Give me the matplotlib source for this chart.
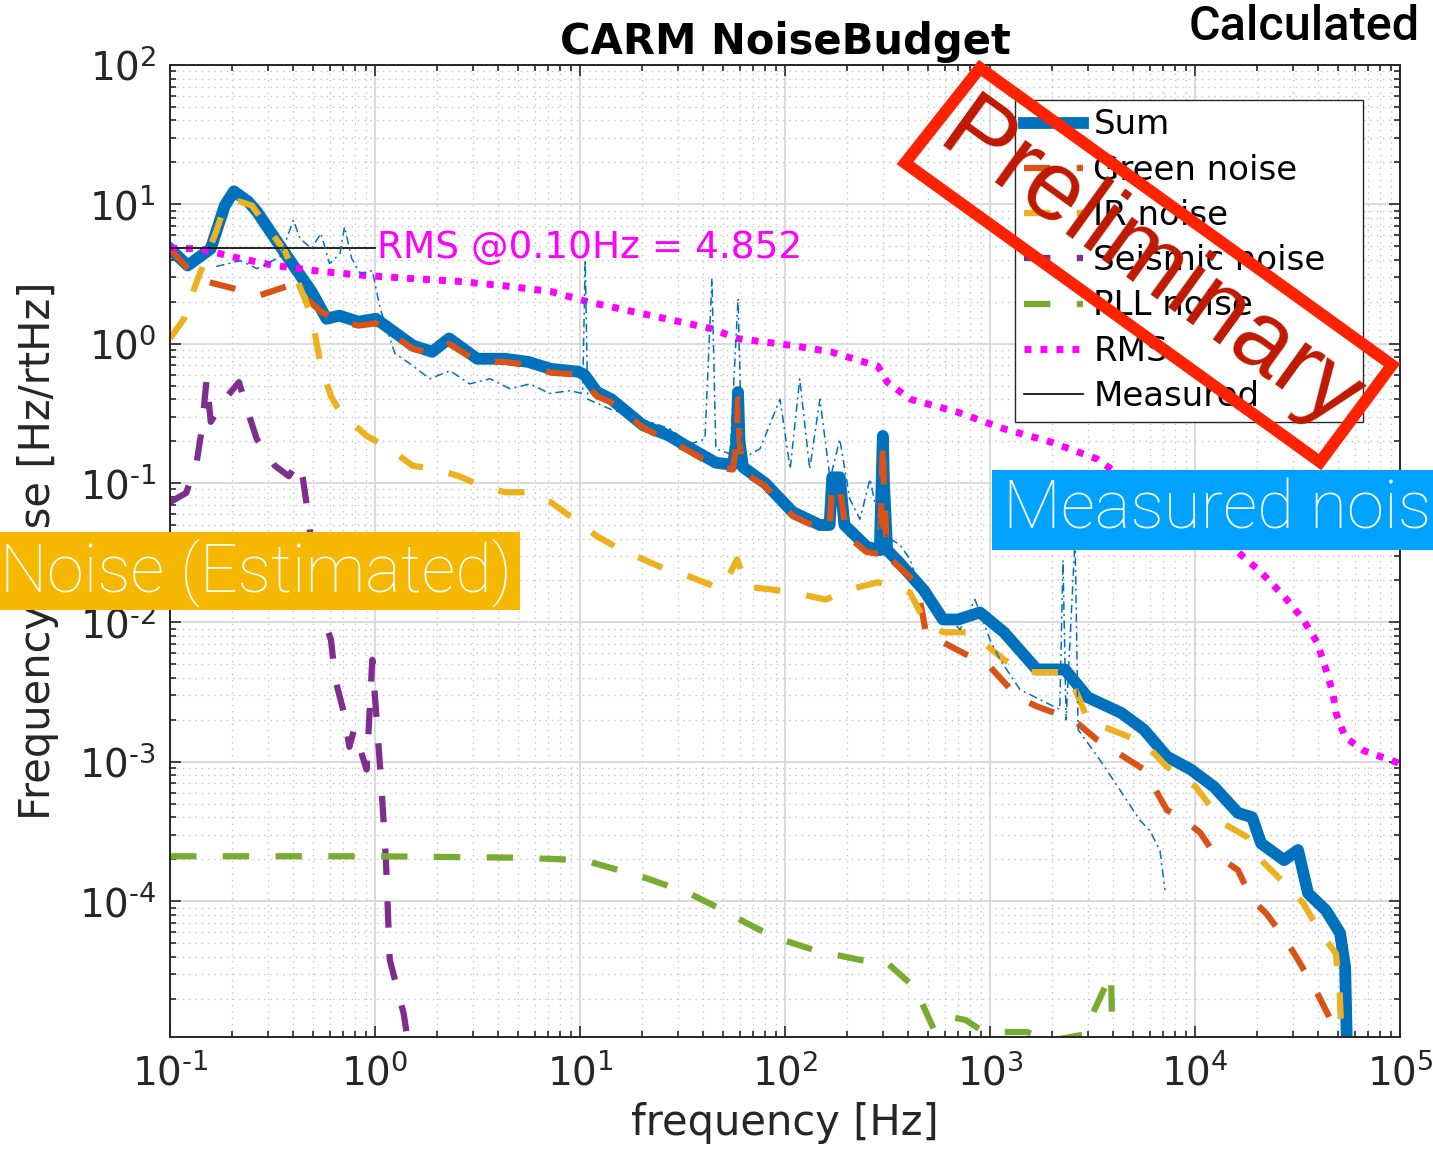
import numpy as np
import matplotlib.pyplot as plt
from matplotlib.patches import Polygon, Rectangle
from matplotlib.ticker import LogLocator, NullFormatter, FuncFormatter

# ---- data (frequency in Hz, noise in Hz/rtHz) ----
sum_f = [0.1, 0.122, 0.158, 0.185, 0.205, 0.24, 0.265, 0.325, 0.40, 0.49, 0.58, 0.67, 0.83,
         1.01, 1.18, 1.53, 1.9, 2.3, 2.57, 3.15, 4.3, 5.6, 7.2, 9.8, 10.5, 12.1, 14.2, 20.3,
         27, 34, 46, 55.7, 58, 59, 60, 62.4, 80, 109, 148, 165, 170, 185, 195, 210, 250,
         290, 296, 300, 304, 315, 360, 476, 590, 700, 893, 1170, 1690, 2320, 3000, 4350,
         5640, 7300, 9550, 12400, 16200, 19000, 21000, 27200, 31800, 35600, 43500, 51000,
         54000, 55000]
sum_v = [4.8, 3.64, 4.8, 9.8, 12.4, 10.5, 8.9, 5.7, 3.64, 2.37, 1.51, 1.59, 1.44,
         1.51, 1.28, 0.97, 0.875, 1.09, 0.97, 0.78, 0.78, 0.74, 0.66, 0.63, 0.6, 0.45, 0.40, 0.26,
         0.22, 0.18, 0.14, 0.135, 0.2, 0.45, 0.2, 0.13, 0.1, 0.062, 0.05, 0.05, 0.11, 0.11, 0.05, 0.045, 0.035,
         0.033, 0.1, 0.218, 0.1, 0.033, 0.027, 0.017, 0.0105, 0.0105, 0.0118, 0.0085, 0.0046, 0.0046, 0.0029, 0.00225,
         0.0017, 0.00109, 0.00088, 0.00066, 0.00043, 0.0004, 0.00026, 0.000197, 0.000233, 0.000114, 8.6e-5, 5.9e-5,
         3.35e-5, 1e-5]

green_f = [0.1, 0.122, 0.151, 0.205, 0.27, 0.38, 0.42, 0.545, 0.67, 0.83, 1.01, 1.18, 1.53,
           1.9, 2.3, 2.57, 3.15, 4.3, 5.6, 7.2, 9.8, 12.1, 14.2, 20.3, 34, 46, 55.7, 58, 59, 60,
           62.4, 80, 109, 148, 165, 170, 185, 200, 250, 290, 296, 300, 304, 315, 360, 440, 490,
           560, 730, 1000, 1370, 1690, 2560, 3325, 5640, 7300, 8550, 10600, 12400, 16200,
           19000, 22200, 27200, 31800, 39400, 46000, 48700]
green_v = [4.8, 3.46, 2.79, 2.49, 2.21, 2.61, 2.4, 1.7, 1.45, 1.35, 1.4, 1.2, 0.92,
           0.85, 1.0, 0.9, 0.75, 0.74, 0.7, 0.62, 0.6, 0.42, 0.38, 0.25, 0.17, 0.13, 0.125, 0.2, 0.4, 0.2,
           0.12, 0.095, 0.058, 0.047, 0.047, 0.1, 0.09, 0.042, 0.032, 0.031, 0.09, 0.2, 0.09, 0.03, 0.025, 0.019, 0.008,
           0.0075, 0.0061, 0.0048, 0.0029, 0.0025, 0.002, 0.00144, 0.00088, 0.00045, 0.0004, 0.00031, 0.00022, 0.000167,
           0.000102, 8.2e-5, 5.5e-5, 3.8e-5, 2.2e-5, 1.4e-5, 9e-6]

ir_f = [0.1, 0.117, 0.135, 0.168, 0.185, 0.217, 0.251, 0.294, 0.364, 0.42, 0.49, 0.545, 0.61,
        0.675, 0.91, 1.18, 1.53, 1.98, 2.57, 3.33, 4.3, 5.6, 7.2, 9.35, 12.1, 15.7, 20.3, 26.3,
        34, 46, 50, 58.4, 65, 84.5, 109, 158, 207, 284, 348, 407, 476, 590, 808, 1170, 1514,
        2320, 2560, 3000, 3890, 5640, 7300, 10100, 13800, 17900, 21000, 27200, 33700, 39400,
        48700, 50800, 52000]
ir_v = [1.09, 1.51, 2.79, 6.4, 9.8, 10.5, 9.8, 7.1, 4.59, 2.79, 1.59, 0.69, 0.42,
        0.324, 0.218, 0.176, 0.133, 0.126, 0.112, 0.095, 0.086, 0.086, 0.073, 0.055, 0.0416, 0.0335, 0.0284, 0.024,
        0.0214, 0.018, 0.018, 0.0284, 0.018, 0.0173, 0.0164, 0.0146, 0.0173, 0.0194, 0.018, 0.0164, 0.0105, 0.0085,
        0.0085, 0.0054, 0.0044, 0.0044, 0.0035, 0.002, 0.0017, 0.00137, 0.00092, 0.00066, 0.00036, 0.00029,
        0.000197, 0.000135, 9.7e-5, 6.5e-5, 4.2e-5, 2.2e-5, 9e-6]

seis_f = [0.1, 0.12, 0.135, 0.143, 0.151, 0.158, 0.185, 0.217, 0.24, 0.265, 0.325, 0.38, 0.42,
          0.445, 0.47, 0.49, 0.546, 0.61, 0.64, 0.705, 0.75, 0.79, 0.91, 0.97, 1.07, 1.13, 1.18,
          1.38, 1.46]
seis_v = [0.073, 0.085, 0.142, 0.245, 0.56, 0.275, 0.40, 0.53, 0.324, 0.207, 0.133, 0.112, 0.142,
          0.107, 0.062, 0.035, 0.0118, 0.0075, 0.0039, 0.00225, 0.00128, 0.0017, 0.00088, 0.0054, 0.00074,
          0.0002, 3.8e-5, 1.56e-5, 9e-6]

pll_f = [0.1, 1.0, 5.0, 10.4, 20.3, 34, 50, 65, 89, 143, 230, 315, 430, 476, 533, 653, 764,
         893, 1170, 1514, 1985, 2845, 3890, 3950, 4025]
pll_v = [2.1e-4, 2.1e-4, 2.05e-4, 1.97e-4, 1.49e-4, 1.14e-4, 8.6e-5, 6.95e-5, 5.5e-5, 4.4e-5, 3.8e-5,
         3.6e-5, 2.4e-5, 1.73e-5, 1.2e-5, 1.47e-5, 1.4e-5, 1.2e-5, 1.15e-5, 1.15e-5, 1.0e-5, 1.1e-5,
         3.0e-5, 1.2e-5, 9e-6]

rms_f = [0.1, 0.14, 0.217, 0.325, 0.546, 0.91, 1.53, 2.57, 4.3, 7.2, 10.9, 15.7, 26.3, 44, 58.4,
         109, 167, 284, 315, 408, 690, 1170, 1985, 3325, 7300, 12400, 16200, 21000, 27200, 33700,
         39400, 43500, 47100, 48700, 54000, 66700, 96600, 100000]
rms_v = [4.85, 4.8, 4.1, 3.64, 3.3, 3.08, 2.93, 2.8, 2.6, 2.37, 2.0, 1.78, 1.51, 1.28, 1.09,
         0.97, 0.875, 0.69, 0.53, 0.40, 0.324, 0.245, 0.197, 0.149, 0.065, 0.0416, 0.032, 0.0229, 0.0154,
         0.0105, 0.0072, 0.0046, 0.0031, 0.00225, 0.0015, 0.0012, 0.00099, 0.00097]

meas_f = [0.168, 0.22, 0.266, 0.344, 0.40, 0.43, 0.49, 0.545, 0.60, 0.675, 0.71, 0.77, 0.845,
          0.97, 1.06, 1.25, 1.48, 1.85, 2.32, 2.9, 3.64, 4.56, 5.7, 7.1, 8.9, 10.3, 10.6, 10.9,
          14.0, 19.6, 27.5, 34.4, 40.7, 44, 46, 54, 59, 61.7, 75.5, 94.6, 106, 118, 132, 148,
          166, 185, 207, 232, 260, 291, 325, 364, 407, 456, 570, 714, 845, 1000, 1120, 1400,
          1750, 2190, 2270, 2350, 2600, 2690, 3440, 4300, 5390, 6030, 6750, 7140]
meas_v = [3.58, 3.95, 3.46, 4.2, 7.7, 5.7, 4.82, 6.2, 3.76, 4.44, 6.9, 4.09, 3.19,
          3.35, 1.79, 0.85, 0.72, 0.56, 0.64, 0.515, 0.56, 0.475, 0.515, 0.44, 0.46, 0.44, 4.0, 0.40,
          0.34, 0.29, 0.245, 0.191, 0.207, 2.94, 0.176, 0.162, 2.11, 0.149, 0.176, 0.40, 0.126, 0.56,
          0.126, 0.40, 0.107, 0.207, 0.077, 0.055, 0.107, 0.047, 0.040, 0.036, 0.0284, 0.0173, 0.0124,
          0.0089, 0.0146, 0.0075, 0.0054, 0.0033, 0.0028, 0.00237, 0.028, 0.002, 0.04, 0.0017, 0.00103,
          0.00063, 0.00038, 0.00032, 0.00023, 0.00012]

rms_at_01 = 4.852
legend_names = ['Sum', 'Green noise', 'IR noise', 'Seismic noise', 'PLL noise', 'RMS', 'Measured']

plt.rcParams['font.family'] = ['DejaVu Sans']
plt.rcParams['mathtext.default'] = 'regular'
plt.rcParams['axes.unicode_minus'] = False
plt.rcParams['lines.scale_dashes'] = False

W, H = 1433, 1158
fig = plt.figure(figsize=(W / 100, H / 100), dpi=100)
ax = fig.add_axes([170 / W, 1 - 1037 / H, 1230 / W, 972 / H])

dash = (19, 19)
ax.loglog(sum_f, sum_v, color='#0072BD', lw=8.5, label=legend_names[0])
ax.loglog(green_f, green_v, color='#D95319', lw=4.5, dashes=dash, label=legend_names[1])
ax.loglog(ir_f, ir_v, color='#EDB120', lw=4.5, dashes=dash, label=legend_names[2])
ax.loglog(seis_f, seis_v, color='#7E2F8E', lw=4.5, dashes=dash, label=legend_names[3])
ax.loglog(pll_f, pll_v, color='#77AC30', lw=4.5, dashes=dash, label=legend_names[4])
ax.loglog(rms_f, rms_v, color='#FF00FF', lw=5, dashes=(5, 6.5), dash_capstyle='butt',
          label=legend_names[5])
ax.loglog([0.1, 1.0], [rms_at_01, rms_at_01], color='black', lw=1.2, label=legend_names[6])
ax.loglog(meas_f, meas_v, color='#0072BD', lw=1.1, dashes=(6, 3, 1.5, 3))
ax.text(1.02, rms_at_01, 'RMS @0.10Hz = %.3f' % rms_at_01, color='#FF00FF', fontsize=27,
        va='center', ha='left')

ax.set_xlim(0.1, 1e5)
ax.set_ylim(1.06e-5, 100)


def dec_label(v, pos):
    e = int(round(np.log10(v)))
    s = str(abs(e))
    if e < 0:
        s = '\u2010' + s
    return '$10^{%s}$' % s


ax.xaxis.set_major_locator(LogLocator(base=10, numticks=20))
ax.yaxis.set_major_locator(LogLocator(base=10, numticks=20))
ax.xaxis.set_major_formatter(FuncFormatter(dec_label))
ax.yaxis.set_major_formatter(FuncFormatter(dec_label))
ax.xaxis.set_minor_locator(LogLocator(base=10, subs=np.arange(2, 10), numticks=200))
ax.yaxis.set_minor_locator(LogLocator(base=10, subs=np.arange(2, 10), numticks=200))
ax.xaxis.set_minor_formatter(NullFormatter())
ax.yaxis.set_minor_formatter(NullFormatter())

ax.set_axisbelow(True)
ax.grid(True, which='major', color='#d8d8d8', lw=1.3, ls='-')
ax.grid(True, which='minor', color='#c4c4c4', lw=1.0, ls=(0, (1, 3.5)))
ax.tick_params(which='both', direction='in', top=True, right=True, colors='#262626',
               labelsize=28, width=1.2)
ax.tick_params(which='major', length=8)
ax.tick_params(which='minor', length=4)
ax.tick_params(axis='x', pad=12)
ax.tick_params(axis='y', pad=10)
for s in ax.spines.values():
    s.set_color('#262626')
    s.set_linewidth(1.4)

ax.set_title('CARM NoiseBudget', fontsize=30, fontweight='bold', pad=8)
ax.set_xlabel('frequency [Hz]', fontsize=30, color='#262626', labelpad=6)
ax.set_ylabel('Frequency noise [Hz/rtHz]', fontsize=30, color='#262626', labelpad=14)

leg = ax.legend(loc='upper left', bbox_to_anchor=(0.687, 0.637, 0.283, 0.327), mode='expand',
                fontsize=24.5, frameon=True, fancybox=False, framealpha=1, edgecolor='#262626',
                borderpad=0.25, labelspacing=0.36, handlelength=1.75, handletextpad=0.3,
                borderaxespad=0)
leg.get_frame().set_linewidth(1.0)

# ---- overlays on the slide ----
fig.text(1420 / W, 1 - 27 / H, 'Calculated', fontsize=35, family=['Roboto', 'DejaVu Sans'],
         fontweight='medium', ha='right', va='center')

fig.patches.append(Rectangle((0, 1 - 610 / H), 520 / W, 78 / H, transform=fig.transFigure,
                             facecolor='#F5B700', edgecolor='none', zorder=10))
fig.text(0.0, 1 - 573 / H, 'Noise (Estimated)', fontsize=48, color='white',
         family=['Roboto', 'DejaVu Sans'], fontweight='light', ha='left', va='center', zorder=11)

fig.patches.append(Rectangle((992 / W, 1 - 550 / H), 441 / W, 80 / H, transform=fig.transFigure,
                             facecolor='#00A2FF', edgecolor='none', zorder=10))
fig.text(1003 / W, 1 - 511 / H, 'Measured nois', fontsize=48.5, color='white',
         family=['Roboto', 'DejaVu Sans'], fontweight='light', ha='left', va='center', zorder=11)

corners = [(980, 68), (1392, 365), (1320, 462), (905, 163)]
fig.patches.append(Polygon([(x / W, 1 - y / H) for x, y in corners], closed=True,
                           transform=fig.transFigure, facecolor='none', edgecolor='#FF2200',
                           lw=8.5, joinstyle='miter', zorder=12))
fig.text(1150 / W, 1 - 268 / H, 'Preliminary', fontsize=71, color='#C01800', rotation=-35.8,
         rotation_mode='anchor', family=['Liberation Sans', 'DejaVu Sans'], ha='center',
         va='center', zorder=13)

fig.savefig('out.png', dpi=100)
